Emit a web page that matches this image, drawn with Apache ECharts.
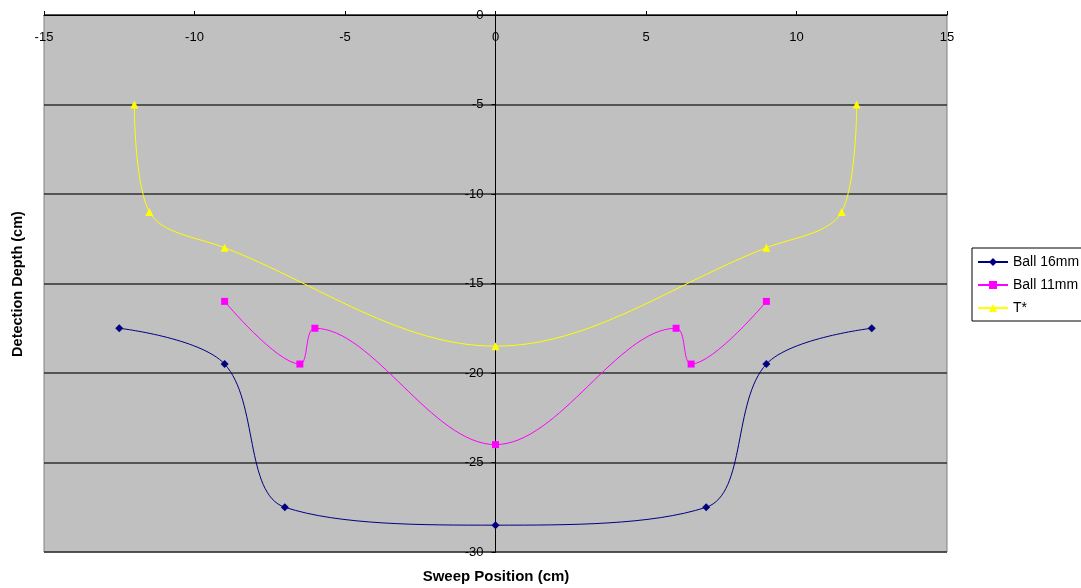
<!DOCTYPE html>
<html>
<head>
<meta charset="utf-8">
<script src="https://cdn.jsdelivr.net/npm/echarts@6/dist/echarts.min.js"></script>
<style>html,body{margin:0;padding:0;background:#fff}#c{width:1081px;height:588px}</style>
</head>
<body>
<div id="c"></div>
<script>
var ball16X = [-12.5, -9, -7, 0, 7, 9, 12.5];
var ball16Y = [-17.5, -19.5, -27.5, -28.5, -27.5, -19.5, -17.5];
var ball11X = [-9, -6.5, -6, 0, 6, 6.5, 9];
var ball11Y = [-16, -19.5, -17.5, -24, -17.5, -19.5, -16];
var tStarX = [-12, -11.5, -9, 0, 9, 11.5, 12];
var tStarY = [-5, -11, -13, -18.5, -13, -11, -5];
var seriesNames = ['Ball 16mm', 'Ball 11mm', 'T*'];

function pairs(xs, ys) { return xs.map(function (x, i) { return [x, ys[i]]; }); }

var chart = echarts.init(document.getElementById('c'), null, { renderer: 'canvas' });
var font = 'Arial, "Liberation Sans", sans-serif';
function mkSeries(name, xs, ys, color, symbol, size) {
  return {
    name: name, type: 'line', data: pairs(xs, ys), smooth: 0.35,
    symbol: symbol, symbolSize: size,
    lineStyle: { color: color, width: 1 },
    itemStyle: { color: color },
    emphasis: { disabled: true }
  };
}
chart.setOption({
  animation: false,
  backgroundColor: '#ffffff',
  grid: { left: 44, top: 15, width: 903, height: 537, containLabel: false, outerBoundsMode: 'none',
          show: true, backgroundColor: '#C0C0C0', borderColor: '#808080', borderWidth: 1 },
  legend: {
    orient: 'vertical', left: 972, top: 248, padding: [7, 20, 6, 5],
    backgroundColor: '#ffffff', borderColor: '#000000', borderWidth: 1, borderRadius: 0,
    itemWidth: 30, itemHeight: 10, itemGap: 9,
    textStyle: { fontFamily: font, fontSize: 14, color: '#000' },
    data: seriesNames
  },
  graphic: [
    { type: 'text', x: 496, y: 577, style: { text: 'Sweep Position (cm)', font: 'bold 15px ' + font, fill: '#000', align: 'center', verticalAlign: 'middle' } },
    { type: 'text', x: 18, y: 284, rotation: Math.PI / 2, style: { text: 'Detection Depth (cm)', font: 'bold 14.5px ' + font, fill: '#000', align: 'center', verticalAlign: 'middle' } }
  ],
  xAxis: {
    type: 'value', min: -15, max: 15, interval: 5, position: 'top',
    axisLine: { show: true, onZero: false, lineStyle: { color: '#000', width: 1 } },
    axisTick: { show: true, inside: false, length: 4, lineStyle: { color: '#000' } },
    axisLabel: { inside: true, margin: 16, fontFamily: font, fontSize: 13, color: '#000' },
    splitLine: { show: false }
  },
  yAxis: {
    type: 'value', min: -30, max: 0, interval: 5, position: 'left', offset: -451.5,
    axisLine: { show: true, onZero: false, lineStyle: { color: '#000', width: 1 } },
    axisTick: { show: true, length: 4, lineStyle: { color: '#000' } },
    axisLabel: { margin: 12, fontFamily: font, fontSize: 13, color: '#000' },
    splitLine: { show: true, lineStyle: { color: '#303030', width: 1.5 } }
  },
  series: [
    mkSeries(seriesNames[0], ball16X, ball16Y, '#000080', 'diamond', 8),
    mkSeries(seriesNames[1], ball11X, ball11Y, '#FF00FF', 'rect', 7),
    mkSeries(seriesNames[2], tStarX, tStarY, '#FFFF00', 'triangle', 8)
  ]
});
</script>
</body>
</html>
